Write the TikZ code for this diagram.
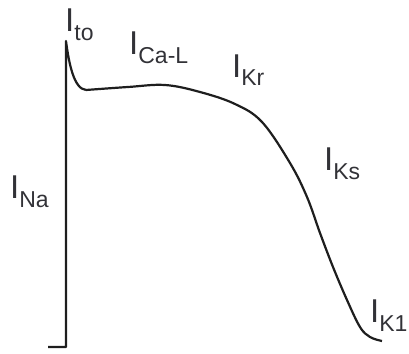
\documentclass[tikz,border=0pt]{standalone}
\usepackage{fontspec}
\setmainfont{Liberation Sans}
\usepackage{tikz}
\definecolor{ink}{RGB}{30,30,30}
\definecolor{label}{RGB}{50,50,55}
\newcommand\curr[1]{I\raisebox{-9pt}{\fontsize{23}{25}\selectfont #1}}

\begin{document}
\begin{tikzpicture}[x=1pt,y=-1pt,
    trace/.style={ink, line width=2.2pt, line join=round},
    cur/.style={anchor=base west, inner sep=0pt, text=label,
                font=\fontsize{33}{36}\selectfont}]
  \useasboundingbox (0,0) rectangle (409,353);
  % Potentiel d'action
  \draw[trace] (48,347) -- (66,347) -- (66,41)
    .. controls (69,64) and (74,89) .. (86,90);
  \draw[trace] plot[smooth, tension=0.6] coordinates {
    (86,90) (128,87) (165,85) (200,92) (235,104) (262,122)
    (290,163) (307,197) (320,233) (333,267) (347,300) (360,327)
    (370,337) (382,341)};
  % Courants
  \node[cur] (ito) at (65,32)  {\curr{to}};
  \node[cur] (ical) at (129,55) {\curr{Ca-L}};
  \node[cur] (ikr) at (232,77) {\curr{Kr}};
  \node[cur] (iks) at (324,170) {\curr{Ks}};
  \node[cur] (ik1) at (370,322) {\curr{K1}};
  \node[cur] (ina) at (10,198) {\curr{Na}};
\end{tikzpicture}
\end{document}
